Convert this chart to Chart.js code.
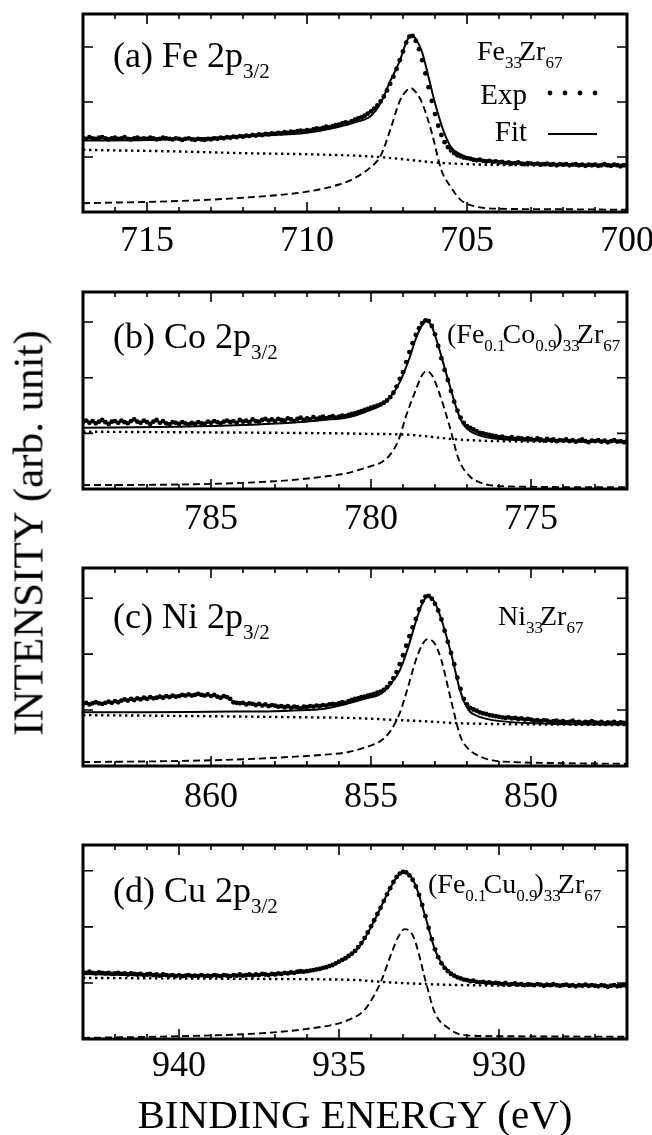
<!DOCTYPE html>
<html>
<head>
<meta charset="utf-8">
<title>2p3/2 XPS spectra</title>
<script src="https://cdn.jsdelivr.net/npm/chart.js@4.4.1/dist/chart.umd.min.js"></script>
<style>
  body { margin: 0; background: #fff; overflow: hidden; }
  .fig { position: relative; width: 652px; height: 1135px; }
  .fig canvas { position: absolute; left: 0; }
  .ytitle {
    position: absolute; left: 28px; top: 533px;
    transform: translate(-50%, -50%) rotate(-90deg);
    font: 43px 'Liberation Serif', 'Times New Roman', serif;
    white-space: nowrap; color: #000;
  }
</style>
</head>
<body>
<div class="fig">
  <canvas id="pa" width="652" height="270" style="top:0px"></canvas>
  <canvas id="pb" width="652" height="275" style="top:275px"></canvas>
  <canvas id="pc" width="652" height="272" style="top:553px"></canvas>
  <canvas id="pd" width="652" height="305" style="top:830px"></canvas>
  <div class="ytitle">INTENSITY (arb. unit)</div>
</div>
<script>
const SERIF = "'Liberation Serif', 'Times New Roman', serif";

// ---- (a) Fe 2p3/2, Fe33Zr67 ----
const aRange = [700, 717];
const aExpStart = 717;   // eV, 0.1 eV steps downwards
const aExp = [
  1.35,1.33,1.36,1.34,1.33,1.35,1.36,1.34,1.32,1.34,
  1.35,1.33,1.34,1.36,1.33,1.32,1.34,1.35,1.33,1.34,
  1.33,1.35,1.34,1.32,1.33,1.35,1.34,1.33,1.32,1.34,
  1.33,1.31,1.33,1.34,1.32,1.31,1.33,1.32,1.31,1.33,
  1.32,1.34,1.33,1.35,1.34,1.36,1.35,1.37,1.36,1.38,
  1.37,1.39,1.38,1.40,1.39,1.41,1.40,1.42,1.41,1.43,
  1.42,1.44,1.43,1.45,1.44,1.46,1.45,1.47,1.48,1.47,
  1.49,1.48,1.50,1.52,1.51,1.53,1.55,1.54,1.56,1.58,
  1.59,1.61,1.63,1.62,1.65,1.68,1.70,1.72,1.75,1.79,
  1.83,1.88,1.94,2.01,2.10,2.21,2.33,2.46,2.60,2.76,
  2.92,3.08,3.19,3.20,3.11,2.96,2.76,2.52,2.27,2.02,
  1.78,1.57,1.40,1.27,1.18,1.12,1.07,1.03,1.01,0.99,
  0.98,0.97,0.95,0.94,0.95,0.93,0.92,0.93,0.91,0.92,
  0.90,0.91,0.89,0.90,0.88,0.89,0.90,0.88,0.87,0.89,
  0.88,0.87,0.88,0.86,0.87,0.88,0.86,0.87,0.85,0.87,
  0.86,0.87,0.85,0.86,0.87,0.85,0.86,0.84,0.86,0.85,
  0.86,0.84,0.85,0.87,0.85,0.84,0.86,0.85,0.83,0.85,0.84
];
const aFitE = [717,715,713,711.5,710,709,708.5,708,707.7,707.4,707.1,706.9,706.75,706.6,706.4,706.2,706.0,705.75,705.5,705.2,704.9,704.5,703.5,702,700];
const aFit  = [1.30,1.31,1.35,1.39,1.44,1.55,1.63,1.75,1.98,2.38,2.75,3.08,3.22,3.15,2.90,2.45,1.98,1.50,1.18,1.05,0.98,0.94,0.90,0.87,0.86];
const aPkE = [717,714,712,710,709,708.5,708,707.7,707.4,707.1,706.9,706.75,706.6,706.4,706.1,705.8,705.5,705.2,704.8,704,702,700];
const aPk  = [0.16,0.20,0.26,0.37,0.50,0.62,0.82,1.02,1.49,2.02,2.20,2.25,2.18,1.98,1.44,0.76,0.45,0.22,0.11,0.06,0.05,0.04];
const aBgE = [717,714,712,710,708,707,706,705,703,700];
const aBg  = [1.13,1.10,1.07,1.05,1.01,0.96,0.90,0.87,0.85,0.84];

// ---- (b) Co 2p3/2, (Fe0.1Co0.9)33Zr67 ----
const bRange = [772, 789];
const bExpStart = 789;
const bExp = [
  1.20,1.23,1.19,1.22,1.18,1.21,1.24,1.20,1.17,1.21,
  1.22,1.19,1.23,1.20,1.18,1.22,1.25,1.21,1.19,1.23,
  1.20,1.17,1.21,1.24,1.19,1.22,1.18,1.16,1.20,1.19,
  1.17,1.20,1.18,1.16,1.19,1.17,1.20,1.18,1.17,1.21,
  1.19,1.22,1.20,1.18,1.21,1.23,1.20,1.22,1.19,1.24,
  1.21,1.23,1.20,1.25,1.22,1.21,1.24,1.26,1.23,1.25,
  1.22,1.26,1.24,1.23,1.27,1.25,1.22,1.26,1.28,1.24,
  1.27,1.25,1.29,1.26,1.28,1.30,1.27,1.29,1.31,1.28,
  1.30,1.32,1.31,1.33,1.35,1.36,1.38,1.40,1.42,1.44,
  1.46,1.48,1.50,1.52,1.55,1.59,1.65,1.73,1.84,1.98,
  2.10,2.28,2.46,2.62,2.77,2.89,2.98,3.03,3.02,2.93,
  2.78,2.57,2.35,2.14,1.96,1.76,1.57,1.41,1.28,1.19,
  1.13,1.10,1.07,1.04,1.01,1.00,0.98,0.97,0.96,0.95,
  0.93,0.94,0.92,0.91,0.93,0.90,0.92,0.91,0.89,0.91,
  0.90,0.88,0.91,0.89,0.87,0.90,0.88,0.89,0.86,0.88,
  0.87,0.89,0.86,0.88,0.85,0.87,0.89,0.86,0.84,0.87,
  0.86,0.88,0.85,0.87,0.84,0.86,0.88,0.85,0.86,0.84,0.86
];
const bFitE = [789,786,784,782.5,781.5,780.7,780.2,779.7,779.4,779.1,778.8,778.6,778.4,778.25,778.1,777.9,777.7,777.5,777.3,777.1,776.9,776.6,776.2,775.5,774,772];
const bFit  = [1.10,1.12,1.15,1.19,1.24,1.29,1.38,1.50,1.65,1.92,2.35,2.70,2.95,3.03,2.92,2.58,2.18,1.78,1.40,1.15,1.04,0.96,0.91,0.88,0.86,0.85];
const bPkE = [789,786,784,782.5,781.5,780.7,780.4,779.9,779.67,779.4,779.14,778.9,778.6,778.4,778.26,778.1,777.9,777.57,777.25,776.9,776.6,776.3,775,772];
const bPk  = [0.07,0.08,0.11,0.16,0.22,0.29,0.34,0.43,0.48,0.62,0.88,1.32,1.78,2.05,2.12,2.05,1.78,1.18,0.52,0.22,0.12,0.07,0.04,0.03];
const bBgE = [789,786,783,781,780,779,778.5,778,777.5,777,776,774,772];
const bBg  = [1.03,1.02,1.01,1.00,0.99,0.98,0.96,0.93,0.90,0.88,0.86,0.85,0.85];

// ---- (c) Ni 2p3/2, Ni33Zr67 ----
const cRange = [847, 864];
const cExpStart = 864;
const cExp = [
  1.11,1.13,1.10,1.12,1.14,1.12,1.11,1.13,1.15,1.13,
  1.16,1.14,1.17,1.19,1.17,1.20,1.18,1.21,1.19,1.22,
  1.20,1.23,1.21,1.22,1.24,1.22,1.25,1.23,1.26,1.24,
  1.25,1.27,1.26,1.28,1.26,1.27,1.29,1.27,1.26,1.28,
  1.25,1.27,1.24,1.22,1.25,1.23,1.20,1.14,1.13,1.12,
  1.13,1.10,1.12,1.11,1.09,1.11,1.08,1.10,1.07,1.09,
  1.08,1.06,1.07,1.05,1.07,1.04,1.06,1.05,1.03,1.06,
  1.05,1.07,1.06,1.08,1.07,1.09,1.08,1.10,1.11,1.10,
  1.12,1.14,1.13,1.16,1.18,1.20,1.21,1.23,1.24,1.26,
  1.27,1.29,1.31,1.33,1.36,1.41,1.48,1.57,1.68,1.82,
  1.98,2.15,2.32,2.48,2.63,2.80,2.94,3.03,3.04,2.99,
  2.90,2.78,2.62,2.42,2.22,2.02,1.82,1.58,1.38,1.20,
  1.10,1.04,1.01,0.99,0.96,0.94,0.93,0.91,0.90,0.89,
  0.88,0.87,0.86,0.87,0.85,0.86,0.84,0.85,0.83,0.84,
  0.83,0.81,0.82,0.80,0.82,0.81,0.79,0.80,0.81,0.79,
  0.80,0.78,0.79,0.81,0.78,0.79,0.77,0.79,0.78,0.80,
  0.78,0.77,0.79,0.76,0.78,0.77,0.79,0.76,0.78,0.77,0.76
];
const cFitE = [864,862,860,858,857,856.4,855.7,855.2,854.67,854.4,854.1,853.85,853.6,853.4,853.22,853.0,852.8,852.5,852.2,851.95,851.7,851.2,850.5,849,847];
const cFit  = [0.96,0.96,0.97,0.98,1.00,1.03,1.12,1.20,1.30,1.45,1.71,2.10,2.58,2.90,3.04,2.92,2.62,2.02,1.32,1.00,0.90,0.82,0.78,0.75,0.74];
const cPkE = [864,861,859,857,856.5,855.7,855.2,854.67,854.4,854.1,853.85,853.6,853.4,853.22,853.0,852.8,852.5,852.2,851.95,851.7,851.2,850.5,849,847];
const cPk  = [0.07,0.09,0.12,0.18,0.20,0.25,0.33,0.46,0.62,0.95,1.40,1.89,2.17,2.27,2.18,1.89,1.18,0.52,0.30,0.20,0.10,0.07,0.05,0.04];
const cBgE = [864,860,857,855.7,854.1,853,852.5,851,849,847];
const cBg  = [0.91,0.89,0.87,0.86,0.82,0.79,0.77,0.75,0.74,0.73];

// ---- (d) Cu 2p3/2, (Fe0.1Cu0.9)33Zr67 ----
const dRange = [926, 943];
const dExpStart = 943;
const dExp = [
  1.19,1.18,1.20,1.18,1.17,1.19,1.18,1.17,1.18,1.16,
  1.17,1.18,1.16,1.17,1.15,1.17,1.16,1.15,1.16,1.14,
  1.15,1.16,1.14,1.15,1.13,1.15,1.14,1.13,1.14,1.12,
  1.14,1.12,1.13,1.14,1.12,1.13,1.12,1.14,1.12,1.13,
  1.12,1.14,1.13,1.12,1.14,1.13,1.12,1.14,1.13,1.15,
  1.13,1.14,1.15,1.13,1.15,1.14,1.16,1.15,1.14,1.16,
  1.15,1.17,1.16,1.18,1.17,1.19,1.18,1.20,1.21,1.20,
  1.21,1.22,1.23,1.24,1.25,1.27,1.28,1.30,1.32,1.35,
  1.38,1.41,1.44,1.48,1.52,1.57,1.64,1.71,1.80,1.90,
  2.01,2.12,2.23,2.34,2.46,2.58,2.69,2.80,2.89,2.95,
  2.98,2.97,2.92,2.84,2.72,2.57,2.39,2.19,1.98,1.78,
  1.60,1.46,1.35,1.27,1.21,1.16,1.13,1.10,1.08,1.06,
  1.05,1.03,1.04,1.02,1.01,1.02,1.00,1.01,0.99,1.00,
  0.99,0.98,1.00,0.97,0.98,0.99,0.97,0.98,0.96,0.98,
  0.97,0.96,0.98,0.97,0.95,0.97,0.96,0.98,0.96,0.95,
  0.96,0.97,0.95,0.96,0.94,0.96,0.95,0.97,0.95,0.96,
  0.95,0.94,0.96,0.95,0.93,0.95,0.96,0.94,0.95,0.96,0.94
];
const dFitE = [943,940,938,937,936,935.5,935,934.7,934.4,934.1,933.8,933.5,933.2,933.0,932.8,932.6,932.3,932.0,931.8,931.6,931.25,930.5,929,926];
const dFit  = [1.16,1.13,1.13,1.15,1.20,1.26,1.37,1.47,1.62,1.89,2.22,2.58,2.88,2.98,2.93,2.73,2.18,1.59,1.36,1.23,1.09,1.00,0.97,0.95];
const dPkE = [943,940,937.5,936,935,934.7,934.2,933.9,933.67,933.36,933.15,932.95,932.75,932.6,932.3,932.0,931.6,931.1,930,926];
const dPk  = [0.02,0.05,0.10,0.18,0.28,0.34,0.52,0.78,1.05,1.53,1.82,1.96,1.90,1.71,1.05,0.46,0.20,0.07,0.05,0.04];
const dBgE = [943,940,937,935,934.4,933.7,932.3,931,928,926];
const dBg  = [1.09,1.08,1.07,1.06,1.05,1.02,0.98,0.96,0.95,0.95];

const yTicks = [1, 2, 3];

// text pieces: [string, isSubscript]
const aLabel = [['(a) Fe 2p', 0], ['3/2', 1]];
const bLabel = [['(b) Co 2p', 0], ['3/2', 1]];
const cLabel = [['(c) Ni 2p', 0], ['3/2', 1]];
const dLabel = [['(d) Cu 2p', 0], ['3/2', 1]];
const aComp = [['Fe', 0], ['33', 1], ['Zr', 0], ['67', 1]];
const bComp = [['(Fe', 0], ['0.1', 1], ['Co', 0], ['0.9', 1], [')', 0], ['33', 1], ['Zr', 0], ['67', 1]];
const cComp = [['Ni', 0], ['33', 1], ['Zr', 0], ['67', 1]];
const dComp = [['(Fe', 0], ['0.1', 1], ['Cu', 0], ['0.9', 1], [')', 0], ['33', 1], ['Zr', 0], ['67', 1]];

Chart.defaults.font.family = SERIF;
Chart.defaults.color = '#000';

function expPoints(start, vals) {
  return vals.map((v, i) => ({ x: +(start - i * 0.1).toFixed(1), y: v }));
}
function pairs(es, vs) {
  return es.map((e, i) => ({ x: e, y: vs[i] }));
}

function drawRich(ctx, parts, x, y, big, small, drop, kern) {
  ctx.textAlign = 'left';
  ctx.textBaseline = 'alphabetic';
  parts.forEach(([t, sub]) => {
    ctx.font = (sub ? small : big) + 'px ' + SERIF;
    ctx.fillText(t, x, sub ? y + drop : y);
    x += ctx.measureText(t).width + (sub ? kern : 0);
  });
}

// frame, inward ticks, panel texts
const decoPlugin = {
  id: 'deco',
  afterDatasetsDraw(chart, args, o) {
    const ctx = chart.ctx;
    const a = chart.chartArea;
    const xs = chart.scales.x, ys = chart.scales.y;
    ctx.save();
    ctx.strokeStyle = '#000';
    ctx.fillStyle = '#000';
    ctx.lineWidth = 1.6;
    ctx.beginPath();
    for (let v = Math.ceil(xs.min); v <= Math.floor(xs.max); v++) {
      const px = xs.getPixelForValue(v);
      const len = v % 5 === 0 ? 10 : 5;
      ctx.moveTo(px, a.bottom); ctx.lineTo(px, a.bottom - len);
      ctx.moveTo(px, a.top); ctx.lineTo(px, a.top + len);
    }
    yTicks.forEach(v => {
      const py = ys.getPixelForValue(v);
      ctx.moveTo(a.left, py); ctx.lineTo(a.left + 10, py);
      ctx.moveTo(a.right, py); ctx.lineTo(a.right - 10, py);
    });
    ctx.stroke();
    ctx.lineWidth = 3;
    ctx.strokeRect(a.left, a.top, a.right - a.left, a.bottom - a.top);

    drawRich(ctx, o.label, a.left + 30, a.top + o.labelDy, 36, 21, 11, 0);
    drawRich(ctx, o.comp, a.left + o.compDx, a.top + o.compDy, 28, 17, 8, -3);

    if (o.legend) {
      ctx.font = '29px ' + SERIF;
      ctx.textAlign = 'right';
      ctx.fillText('Exp', a.left + 444, a.top + 90);
      ctx.fillText('Fit', a.left + 444, a.top + 127);
      for (let k = 0; k < 4; k++) {
        ctx.beginPath();
        ctx.arc(a.left + 467 + 15 * k, a.top + 79, 2.4, 0, Math.PI * 2);
        ctx.fill();
      }
      ctx.lineWidth = 2;
      ctx.beginPath();
      ctx.moveTo(a.left + 465, a.top + 120);
      ctx.lineTo(a.left + 514, a.top + 120);
      ctx.stroke();
    }
    ctx.restore();
  }
};

function makePanel(p) {
  const xScale = {
    type: 'linear', min: p.range[0], max: p.range[1], reverse: true,
    grid: { display: false, drawTicks: false },
    border: { display: false },
    ticks: { stepSize: 5, includeBounds: false, autoSkip: false, maxRotation: 0,
             padding: p.tickPad, font: { size: 36 } },
    afterFit(s) { s.height = p.axisH; s.paddingLeft = 0; s.paddingRight = 0; }
  };
  if (p.title) {
    xScale.title = { display: true, text: p.title, padding: 0,
                     font: { size: 41, lineHeight: 0.85 } };
  }
  new Chart(document.getElementById(p.id), {
    type: 'line',
    data: {
      datasets: [
        { data: pairs(p.bg[0], p.bg[1]), borderColor: '#000', borderWidth: 2.4,
          borderDash: [2.4, 3.6], pointRadius: 0, cubicInterpolationMode: 'monotone' },
        { data: pairs(p.pk[0], p.pk[1]), borderColor: '#000', borderWidth: 1.9,
          borderDash: [7, 4], pointRadius: 0, cubicInterpolationMode: 'monotone' },
        { data: pairs(p.fit[0], p.fit[1]), borderColor: '#000', borderWidth: 2,
          pointRadius: 0, cubicInterpolationMode: 'monotone' },
        { data: expPoints(p.exp[0], p.exp[1]), showLine: false, pointRadius: 2.4,
          pointBorderWidth: 0, pointBackgroundColor: '#000', borderColor: '#000' }
      ]
    },
    options: {
      responsive: false, animation: false, devicePixelRatio: 1,
      layout: { padding: { top: p.padTop, right: 25, left: 0, bottom: 0 } },
      plugins: {
        legend: { display: false }, tooltip: { enabled: false },
        deco: { label: p.label, labelDy: p.labelDy, comp: p.comp,
                compDx: p.compDx, compDy: p.compDy, legend: !!p.legend }
      },
      scales: {
        x: xScale,
        y: { min: 0, max: p.ymax,
             grid: { display: false }, border: { display: false },
             ticks: { display: false },
             afterFit(s) { s.width = 83; } }
      }
    },
    plugins: [decoPlugin]
  });
}

makePanel({ id: 'pa', range: aRange, ymax: 3.6, padTop: 14, axisH: 58, tickPad: 8,
  exp: [aExpStart, aExp], fit: [aFitE, aFit], pk: [aPkE, aPk], bg: [aBgE, aBg],
  label: aLabel, labelDy: 53, comp: aComp, compDx: 394, compDy: 46, legend: true });
makePanel({ id: 'pb', range: bRange, ymax: 3.54, padTop: 17, axisH: 61, tickPad: 9,
  exp: [bExpStart, bExp], fit: [bFitE, bFit], pk: [bPkE, bPk], bg: [bBgE, bBg],
  label: bLabel, labelDy: 56, comp: bComp, compDx: 364, compDy: 51 });
makePanel({ id: 'pc', range: cRange, ymax: 3.54, padTop: 15, axisH: 59, tickPad: 10,
  exp: [cExpStart, cExp], fit: [cFitE, cFit], pk: [cPkE, cPk], bg: [cBgE, cBg],
  label: cLabel, labelDy: 60, comp: cComp, compDx: 415, compDy: 57 });
makePanel({ id: 'pd', range: dRange, ymax: 3.46, padTop: 15, axisH: 96, tickPad: 6,
  exp: [dExpStart, dExp], fit: [dFitE, dFit], pk: [dPkE, dPk], bg: [dBgE, dBg],
  label: dLabel, labelDy: 57, comp: dComp, compDx: 345, compDy: 48,
  title: 'BINDING ENERGY (eV)' });
</script>
</body>
</html>
